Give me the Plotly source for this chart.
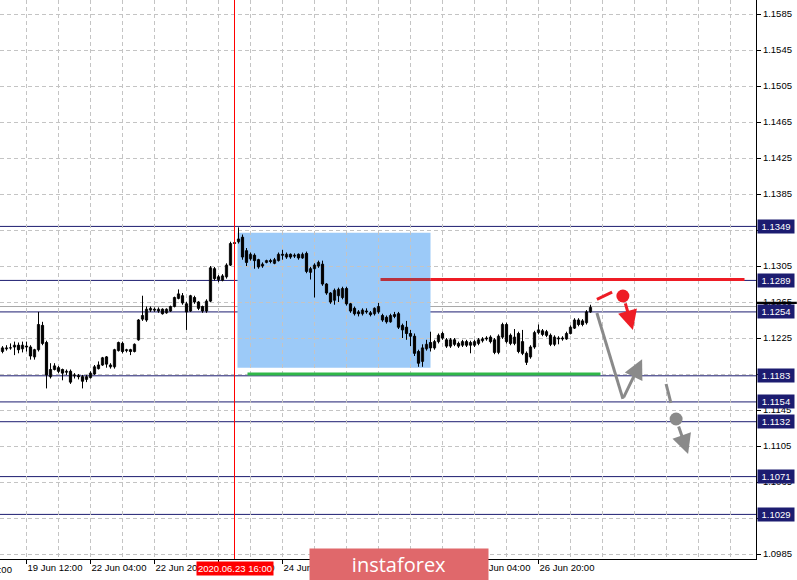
import plotly.graph_objects as go

# ---------------- data (EURUSD H1) ----------------
bar_index = list(range(-6, 142))  # hourly bars; 0 = 19 Jun 12:00

open_ = [1.1210, 1.1213, 1.1214, 1.1215, 1.1217, 1.1213, 1.1216, 1.1215, 1.1204, 1.1212,
         1.1239, 1.1220, 1.1182, 1.1190, 1.1192, 1.1190, 1.1187, 1.1188, 1.1183, 1.1183,
         1.1182, 1.1179, 1.1181, 1.1185, 1.1191, 1.1195, 1.1204, 1.1193, 1.1193, 1.1211,
         1.1219, 1.1211, 1.1212, 1.1210, 1.1223, 1.1246, 1.1245, 1.1256, 1.1257, 1.1255,
         1.1257, 1.1253, 1.1255, 1.1260, 1.1269, 1.1272, 1.1263, 1.1255, 1.1270, 1.1265,
         1.1260, 1.1255, 1.1266, 1.1302, 1.1293, 1.1289, 1.1293, 1.1306, 1.1330, 1.1332,
         1.1337, 1.1322, 1.1313, 1.1317, 1.1312, 1.1305, 1.1309, 1.1311, 1.1308, 1.1311,
         1.1318, 1.1315, 1.1318, 1.1316, 1.1318, 1.1314, 1.1319, 1.1298, 1.1302, 1.1305,
         1.1307, 1.1285, 1.1275, 1.1267, 1.1272, 1.1270, 1.1280, 1.1263, 1.1258, 1.1254,
         1.1252, 1.1255, 1.1253, 1.1252, 1.1254, 1.1250, 1.1248, 1.1243, 1.1251, 1.1252,
         1.1239, 1.1237, 1.1230, 1.1227, 1.1210, 1.1199, 1.1213, 1.1220, 1.1214, 1.1221,
         1.1230, 1.1223, 1.1216, 1.1223, 1.1219, 1.1217, 1.1221, 1.1217, 1.1217, 1.1219,
         1.1222, 1.1225, 1.1226, 1.1223, 1.1209, 1.1226, 1.1240, 1.1228, 1.1219, 1.1230,
         1.1221, 1.1208, 1.1204, 1.1215, 1.1231, 1.1233, 1.1232, 1.1228, 1.1218, 1.1224,
         1.1225, 1.1224, 1.1230, 1.1236, 1.1245, 1.1244, 1.1242, 1.1254]

high = [1.1216, 1.1217, 1.1219, 1.1221, 1.1220, 1.1221, 1.1221, 1.1217, 1.1213, 1.1254,
        1.1243, 1.1222, 1.1197, 1.1197, 1.1194, 1.1191, 1.1190, 1.1190, 1.1186, 1.1185,
        1.1184, 1.1184, 1.1188, 1.1195, 1.1199, 1.1204, 1.1205, 1.1197, 1.1213, 1.1221,
        1.1221, 1.1213, 1.1213, 1.1219, 1.1246, 1.1272, 1.1260, 1.1260, 1.1259, 1.1259,
        1.1258, 1.1258, 1.1261, 1.1271, 1.1279, 1.1275, 1.1265, 1.1273, 1.1272, 1.1266,
        1.1261, 1.1268, 1.1305, 1.1304, 1.1295, 1.1296, 1.1308, 1.1332, 1.1333, 1.1348,
        1.1340, 1.1325, 1.1320, 1.1319, 1.1313, 1.1309, 1.1312, 1.1313, 1.1314, 1.1320,
        1.1323, 1.1320, 1.1319, 1.1319, 1.1319, 1.1320, 1.1321, 1.1304, 1.1308, 1.1311,
        1.1311, 1.1286, 1.1276, 1.1280, 1.1281, 1.1282, 1.1282, 1.1264, 1.1260, 1.1256,
        1.1258, 1.1258, 1.1255, 1.1259, 1.1264, 1.1252, 1.1250, 1.1252, 1.1254, 1.1254,
        1.1241, 1.1244, 1.1234, 1.1230, 1.1212, 1.1218, 1.1223, 1.1232, 1.1223, 1.1230,
        1.1232, 1.1225, 1.1225, 1.1225, 1.1221, 1.1223, 1.1223, 1.1222, 1.1223, 1.1225,
        1.1226, 1.1227, 1.1228, 1.1225, 1.1229, 1.1242, 1.1242, 1.1230, 1.1235, 1.1232,
        1.1234, 1.1210, 1.1217, 1.1233, 1.1240, 1.1235, 1.1234, 1.1230, 1.1228, 1.1227,
        1.1227, 1.1232, 1.1239, 1.1247, 1.1247, 1.1246, 1.1256, 1.1262]

low = [1.1208, 1.1211, 1.1212, 1.1206, 1.1208, 1.1209, 1.1210, 1.1201, 1.1201, 1.1210,
       1.1217, 1.1169, 1.1180, 1.1189, 1.1186, 1.1178, 1.1184, 1.1174, 1.1180, 1.1179,
       1.1169, 1.1176, 1.1180, 1.1184, 1.1190, 1.1194, 1.1192, 1.1191, 1.1191, 1.1210,
       1.1208, 1.1209, 1.1206, 1.1209, 1.1222, 1.1244, 1.1243, 1.1254, 1.1254, 1.1253,
       1.1251, 1.1252, 1.1254, 1.1259, 1.1268, 1.1262, 1.1234, 1.1254, 1.1263, 1.1256,
       1.1253, 1.1253, 1.1265, 1.1289, 1.1287, 1.1288, 1.1291, 1.1305, 1.1328, 1.1330,
       1.1312, 1.1305, 1.1311, 1.1302, 1.1302, 1.1303, 1.1308, 1.1308, 1.1307, 1.1310,
       1.1312, 1.1313, 1.1313, 1.1314, 1.1312, 1.1313, 1.1297, 1.1290, 1.1270, 1.1303,
       1.1283, 1.1273, 1.1263, 1.1262, 1.1265, 1.1268, 1.1261, 1.1253, 1.1250, 1.1249,
       1.1250, 1.1252, 1.1249, 1.1250, 1.1252, 1.1243, 1.1241, 1.1242, 1.1247, 1.1235,
       1.1225, 1.1223, 1.1216, 1.1205, 1.1193, 1.1193, 1.1211, 1.1210, 1.1212, 1.1219,
       1.1223, 1.1214, 1.1214, 1.1216, 1.1214, 1.1215, 1.1215, 1.1208, 1.1215, 1.1217,
       1.1220, 1.1222, 1.1219, 1.1207, 1.1207, 1.1224, 1.1219, 1.1217, 1.1217, 1.1208,
       1.1206, 1.1195, 1.1202, 1.1213, 1.1229, 1.1227, 1.1226, 1.1216, 1.1216, 1.1218,
       1.1222, 1.1223, 1.1229, 1.1235, 1.1238, 1.1238, 1.1240, 1.1253]

close = [1.1214, 1.1214, 1.1214, 1.1217, 1.1212, 1.1217, 1.1215, 1.1205, 1.1212, 1.1240,
         1.1219, 1.1184, 1.1190, 1.1194, 1.1188, 1.1186, 1.1188, 1.1176, 1.1184, 1.1182,
         1.1177, 1.1182, 1.1186, 1.1193, 1.1195, 1.1203, 1.1196, 1.1195, 1.1212, 1.1220,
         1.1210, 1.1212, 1.1210, 1.1218, 1.1245, 1.1250, 1.1257, 1.1258, 1.1256, 1.1257,
         1.1252, 1.1257, 1.1260, 1.1270, 1.1274, 1.1264, 1.1254, 1.1272, 1.1265, 1.1258,
         1.1255, 1.1266, 1.1303, 1.1291, 1.1290, 1.1294, 1.1306, 1.1330, 1.1331, 1.1335,
         1.1315, 1.1309, 1.1318, 1.1311, 1.1304, 1.1307, 1.1311, 1.1310, 1.1312, 1.1318,
         1.1317, 1.1318, 1.1315, 1.1317, 1.1314, 1.1318, 1.1299, 1.1302, 1.1306, 1.1309,
         1.1285, 1.1275, 1.1265, 1.1278, 1.1279, 1.1280, 1.1263, 1.1255, 1.1252, 1.1252,
         1.1256, 1.1254, 1.1251, 1.1258, 1.1260, 1.1245, 1.1243, 1.1250, 1.1249, 1.1237,
         1.1234, 1.1230, 1.1227, 1.1208, 1.1197, 1.1214, 1.1218, 1.1214, 1.1221, 1.1228,
         1.1225, 1.1216, 1.1223, 1.1218, 1.1216, 1.1221, 1.1217, 1.1220, 1.1221, 1.1223,
         1.1224, 1.1224, 1.1221, 1.1209, 1.1227, 1.1240, 1.1221, 1.1219, 1.1226, 1.1210,
         1.1208, 1.1198, 1.1215, 1.1231, 1.1234, 1.1229, 1.1228, 1.1218, 1.1226, 1.1225,
         1.1224, 1.1230, 1.1237, 1.1245, 1.1240, 1.1240, 1.1254, 1.1259]

# time axis labels (bar index -> label)
time_tick_index = [0, 16, 32, 48, 64, 80, 96, 112, 128]
time_tick_text = ["19 Jun 12:00", "22 Jun 04:00", "22 Jun 20:00", "23 Jun 12:00",
                  "24 Jun 04:00", "24 Jun 20:00", "25 Jun 12:00", "26 Jun 04:00",
                  "26 Jun 20:00"]
left_cut_label = "18 Jun 20:00"

# price axis
price_ticks = [1.0985, 1.1025, 1.1065, 1.1105, 1.1145, 1.1185, 1.1225, 1.1265,
               1.1305, 1.1345, 1.1385, 1.1425, 1.1465, 1.1505, 1.1545, 1.1585]
level_prices = [1.1349, 1.1289, 1.1254, 1.1183, 1.1154, 1.1132, 1.1071, 1.1029]
bid_price = 1.1260

# analysis objects
marker_bar = 52                      # 2020.06.23 16:00
marker_label = "2020.06.23 16:00"
box_bars = [52.75, 101.0]
box_prices = [1.1192, 1.1342]
red_line_bars = [88.5, 179.5]
red_line_price = 1.1290
green_line_bars = [55.25, 143.5]
green_line_price = 1.1185

red_dash_bars = [142.6, 146.4]
red_dash_prices = [1.1268, 1.1276]
red_dot = (149.1, 1.12717)
red_arrow_from = (149.6, 1.12651)
red_arrow_to = (151.6, 1.12340)

grey_leg_bars = [142.6, 149.1]
grey_leg_prices = [1.12528, 1.11573]
grey_arrow_up_to = (153.9, 1.12014)
grey_dash_bars = [159.9, 161.1]
grey_dash_prices = [1.11739, 1.11528]
grey_dot = (162.4, 1.11350)
grey_arrow_from = (162.9, 1.11284)
grey_arrow_to = (165.4, 1.10962)

watermark_text = "instaforex"

# ---------------- style ----------------
FONT = "Liberation Sans, Arial, sans-serif"
NAVY = "#1c1c70"
RED = "#ee1c25"
GREY = "#8a8a8a"
GRID = "#c4c4c4"
BODY_W = 0.55

X_RANGE = [-6.625, 182.375]
Y_RANGE = [1.097944, 1.16006]

fig = go.Figure()

# wicks
wx, wy = [], []
for i, h, l in zip(bar_index, high, low):
    wx += [i, i, None]
    wy += [l, h, None]
fig.add_trace(go.Scatter(x=wx, y=wy, mode="lines", line=dict(color="black", width=1),
                         showlegend=False, hoverinfo="skip"))

# bodies
MIN_H = 0.000012
for bull in (True, False):
    xs, base, hgt = [], [], []
    for i, o, c in zip(bar_index, open_, close):
        if (c >= o) == bull:
            xs.append(i)
            base.append(min(o, c))
            hgt.append(max(abs(c - o), MIN_H))
    fig.add_trace(go.Bar(x=xs, y=hgt, base=base, width=BODY_W,
                         marker=dict(color="white" if bull else "black",
                                     line=dict(color="black", width=1)),
                         showlegend=False, hoverinfo="skip"))

shapes = []
shapes.append(dict(type="rect", xref="x", yref="y", layer="below",
                   x0=box_bars[0], x1=box_bars[1], y0=box_prices[0], y1=box_prices[1],
                   fillcolor="#9ccaf8", line=dict(width=0)))
for p in level_prices:
    shapes.append(dict(type="line", xref="paper", yref="y", layer="between",
                       x0=0, x1=1, y0=p, y1=p, line=dict(color=NAVY, width=1)))
shapes.append(dict(type="line", xref="paper", yref="y", layer="between",
                   x0=0, x1=1, y0=bid_price, y1=bid_price, line=dict(color="#a8a8a8", width=1)))
shapes.append(dict(type="line", xref="x", yref="y", layer="between",
                   x0=red_line_bars[0], x1=box_bars[1], y0=red_line_price, y1=red_line_price,
                   line=dict(color="#b8323e", width=3)))
shapes.append(dict(type="line", xref="x", yref="y", layer="between",
                   x0=box_bars[1], x1=red_line_bars[1], y0=red_line_price, y1=red_line_price,
                   line=dict(color=RED, width=3)))
shapes.append(dict(type="line", xref="x", yref="y", layer="between",
                   x0=green_line_bars[0], x1=green_line_bars[1],
                   y0=green_line_price, y1=green_line_price,
                   line=dict(color="#30b848", width=3)))
shapes.append(dict(type="line", xref="x", yref="paper", layer="above",
                   x0=marker_bar, x1=marker_bar, y0=0, y1=1, line=dict(color="#ff0000", width=1)))
shapes.append(dict(type="line", xref="x", yref="y", layer="above",
                   x0=red_dash_bars[0], x1=red_dash_bars[1],
                   y0=red_dash_prices[0], y1=red_dash_prices[1], line=dict(color=RED, width=3)))
shapes.append(dict(type="line", xref="x", yref="y", layer="above",
                   x0=grey_leg_bars[0], x1=grey_leg_bars[1],
                   y0=grey_leg_prices[0], y1=grey_leg_prices[1], line=dict(color=GREY, width=3)))
shapes.append(dict(type="line", xref="x", yref="y", layer="above",
                   x0=grey_dash_bars[0], x1=grey_dash_bars[1],
                   y0=grey_dash_prices[0], y1=grey_dash_prices[1], line=dict(color=GREY, width=3)))
shapes.append(dict(type="rect", xref="paper", yref="y", layer="above",
                   x0=1.0013, x1=1.054, y0=bid_price + 0.00028, y1=bid_price + 0.00052,
                   fillcolor="black", line=dict(width=0)))
fig.update_layout(shapes=shapes)

fig.add_trace(go.Scatter(x=[red_dot[0]], y=[red_dot[1]], mode="markers",
                         marker=dict(color=RED, size=13), showlegend=False, hoverinfo="skip"))
fig.add_trace(go.Scatter(x=[grey_dot[0]], y=[grey_dot[1]], mode="markers",
                         marker=dict(color=GREY, size=13), showlegend=False, hoverinfo="skip"))

annotations = []
def arrow(frm, to, color):
    return dict(x=to[0], y=to[1], ax=frm[0], ay=frm[1], xref="x", yref="y",
                axref="x", ayref="y", showarrow=True, text="", arrowhead=2,
                arrowsize=1.3, arrowwidth=3, arrowcolor=color, standoff=0, startstandoff=0)
annotations.append(arrow(red_arrow_from, red_arrow_to, RED))
annotations.append(arrow((grey_leg_bars[1], grey_leg_prices[1]), grey_arrow_up_to, GREY))
annotations.append(arrow(grey_arrow_from, grey_arrow_to, GREY))

for p in level_prices:
    annotations.append(dict(xref="paper", yref="y", x=1, y=p, xanchor="left", xshift=1,
                            text=f"{p:.4f}", showarrow=False, bgcolor=NAVY,
                            font=dict(family=FONT, size=9.5, color="white"),
                            width=34, height=11, borderpad=1, align="center"))
annotations.append(dict(xref="x", yref="paper", x=marker_bar, y=0, yanchor="top", yshift=-2,
                        text=marker_label, showarrow=False, bgcolor="#ff0000",
                        font=dict(family=FONT, size=9.5, color="white"), borderpad=1))
annotations.append(dict(xref="paper", yref="paper", x=14 / 756, y=0, xanchor="right",
                        yanchor="top", yshift=-3, text=left_cut_label, showarrow=False,
                        font=dict(family=FONT, size=9.5, color="black")))
annotations.append(dict(xref="paper", yref="paper", x=399 / 756, y=-5.5 / 559,
                        xanchor="center", yanchor="middle", text=watermark_text,
                        showarrow=False, width=178, height=31, borderpad=0,
                        bgcolor="#e0686b",
                        font=dict(family="Open Sans, sans-serif", size=20, color="white")))
fig.update_layout(annotations=annotations)

fig.update_layout(
    width=797, height=580,
    margin=dict(l=0, r=41, t=0, b=21),
    paper_bgcolor="white", plot_bgcolor="white",
    font=dict(family=FONT, size=9.5, color="black"),
    barmode="overlay",
    xaxis=dict(range=X_RANGE,
               tickmode="array", tickvals=time_tick_index, ticktext=time_tick_text,
               ticklabelposition="outside right", ticks="outside", ticklen=4,
               tickcolor="black", showline=True, linecolor="black", linewidth=1,
               showgrid=True, gridcolor=GRID, griddash="4px,3px", gridwidth=1,
               minor=dict(tick0=0, dtick=8, showgrid=True, gridcolor=GRID,
                          griddash="4px,3px", ticks=""),
               zeroline=False, fixedrange=True),
    yaxis=dict(range=Y_RANGE, side="right", tickmode="array", tickvals=price_ticks,
               tickformat=".4f", ticks="outside", ticklen=4, tickcolor="black",
               showline=True, linecolor="black", linewidth=1,
               showgrid=True, gridcolor=GRID, griddash="4px,3px", gridwidth=1,
               zeroline=False, fixedrange=True),
    showlegend=False,
)

fig.write_html("out.html", post_script="document.body.style.margin='0px';",
               config={"displayModeBar": False})
